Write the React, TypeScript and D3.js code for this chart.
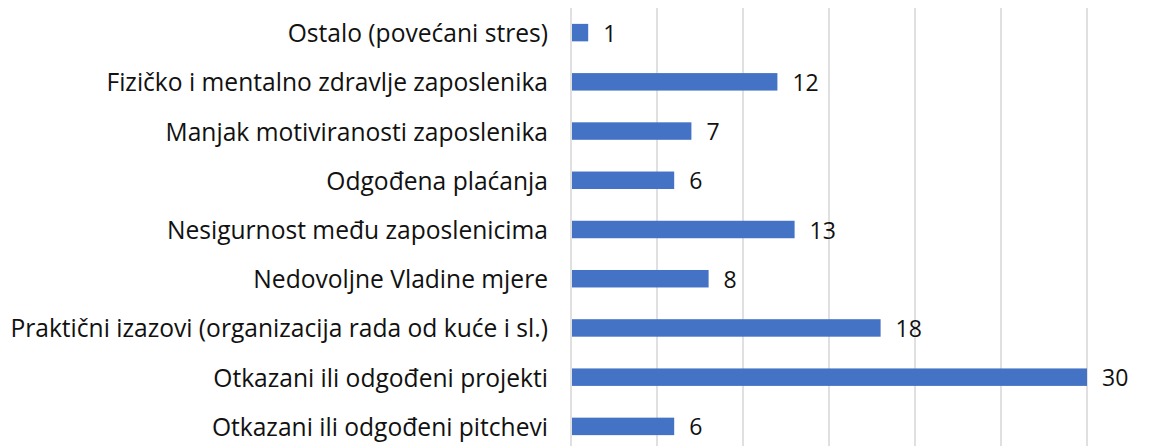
import React from "react";
import * as d3 from "d3";

const categories = [
  "Ostalo (povećani stres)",
  "Fizičko i mentalno zdravlje zaposlenika",
  "Manjak motiviranosti zaposlenika",
  "Odgođena plaćanja",
  "Nesigurnost među zaposlenicima",
  "Nedovoljne Vladine mjere",
  "Praktični izazovi (organizacija rada od kuće i sl.)",
  "Otkazani ili odgođeni projekti",
  "Otkazani ili odgođeni pitchevi",
];
const values = [1, 12, 7, 6, 13, 8, 18, 30, 6];
const ticks = [0, 5, 10, 15, 20, 25, 30];

const W = 1168;
const H = 446;
const FONT = "'Open Sans', sans-serif";

export default function App() {
  const x = d3.scaleLinear().domain([0, 30]).range([571, 1087]);
  const y = d3
    .scaleBand<string>()
    .domain(categories)
    .range([8, 451])
    .paddingInner(0.645)
    .paddingOuter(0.3225);
  const bw = y.bandwidth();
  return (
    <svg
      width={W}
      height={H}
      style={{ position: "absolute", left: 0, top: 0, background: "#fff" }}
      fontFamily={FONT}
    >
      {ticks.map((t) => (
        <line
          key={t}
          x1={x(t)}
          x2={x(t)}
          y1={8}
          y2={H}
          stroke="#d9d9d9"
          strokeWidth={1.6}
        />
      ))}
      {categories.map((c, i) => {
        const yc = (y(c) as number) + bw / 2;
        return (
          <g key={c}>
            <rect
              x={x(0) + 1}
              y={y(c)}
              width={x(values[i]) - x(0) - 1}
              height={bw}
              fill="#4472c4"
            />
            <text
              x={548}
              y={yc}
              textAnchor="end"
              dominantBaseline="central"
              fontSize={24.6}
              fill="#111"
            >
              {c}
            </text>
            <text
              x={x(values[i]) + 15}
              y={yc}
              dominantBaseline="central"
              fontSize={23}
              fill="#111"
            >
              {values[i]}
            </text>
          </g>
        );
      })}
    </svg>
  );
}
